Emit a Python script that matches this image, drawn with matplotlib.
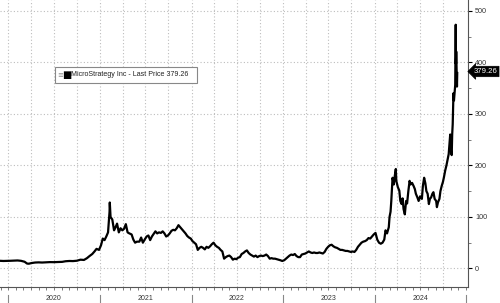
import matplotlib
matplotlib.use("Agg")
import matplotlib.pyplot as plt
import matplotlib.dates as mdates
import matplotlib.transforms as mtransforms
from matplotlib.patches import Rectangle
import pandas as pd

plt.rcParams["font.family"] = ["Liberation Sans", "DejaVu Sans"]

dates = [
 "2019-11-29","2019-12-13","2019-12-27","2020-01-10","2020-01-24","2020-02-07","2020-02-21","2020-03-06",
 "2020-03-16","2020-03-23","2020-04-03","2020-04-17","2020-05-01","2020-05-15","2020-06-01","2020-06-15",
 "2020-07-01","2020-07-15","2020-08-03","2020-08-17","2020-09-01","2020-09-15","2020-10-01","2020-10-15",
 "2020-10-29","2020-11-10","2020-11-20","2020-12-01","2020-12-10","2020-12-18","2020-12-28","2021-01-05",
 "2021-01-12","2021-01-19","2021-01-26","2021-02-02","2021-02-08","2021-02-09","2021-02-12","2021-02-19",
 "2021-02-26","2021-03-04","2021-03-10","2021-03-17","2021-03-24","2021-03-31","2021-04-07","2021-04-14",
 "2021-04-21","2021-04-28","2021-05-07","2021-05-14","2021-05-21","2021-05-28","2021-06-07","2021-06-14",
 "2021-06-21","2021-06-28","2021-07-06","2021-07-13","2021-07-20","2021-07-27","2021-08-03","2021-08-10",
 "2021-08-17","2021-08-24","2021-09-01","2021-09-08","2021-09-15","2021-09-22","2021-09-29","2021-10-06",
 "2021-10-13","2021-10-20","2021-10-27","2021-11-03","2021-11-10","2021-11-17","2021-11-24","2021-12-01",
 "2021-12-08","2021-12-15","2021-12-22","2021-12-29","2022-01-05","2022-01-12","2022-01-19","2022-01-26",
 "2022-02-02","2022-02-09","2022-02-16","2022-02-23","2022-03-02","2022-03-09","2022-03-16","2022-03-23",
 "2022-03-30","2022-04-06","2022-04-13","2022-04-20","2022-04-27","2022-05-04","2022-05-11","2022-05-18",
 "2022-05-25","2022-06-01","2022-06-08","2022-06-15","2022-06-22","2022-06-29","2022-07-06","2022-07-13",
 "2022-07-20","2022-07-27","2022-08-03","2022-08-10","2022-08-17","2022-08-24","2022-08-31","2022-09-07",
 "2022-09-14","2022-09-21","2022-09-28","2022-10-05","2022-10-12","2022-10-19","2022-10-26","2022-11-02",
 "2022-11-09","2022-11-16","2022-11-23","2022-11-30","2022-12-07","2022-12-14","2022-12-21","2022-12-29",
 "2023-01-06","2023-01-13","2023-01-20","2023-01-27","2023-02-03","2023-02-10","2023-02-17","2023-02-24",
 "2023-03-03","2023-03-10","2023-03-17","2023-03-24","2023-03-31","2023-04-07","2023-04-14","2023-04-21",
 "2023-04-28","2023-05-05","2023-05-12","2023-05-19","2023-05-26","2023-06-02","2023-06-09","2023-06-16",
 "2023-06-23","2023-06-30","2023-07-07","2023-07-14","2023-07-21","2023-07-28","2023-08-04","2023-08-11",
 "2023-08-18","2023-08-25","2023-09-01","2023-09-08","2023-09-15","2023-09-22","2023-09-29","2023-10-06",
 "2023-10-13","2023-10-20","2023-10-27","2023-11-03","2023-11-10","2023-11-17","2023-11-24","2023-12-01",
 "2023-12-08","2023-12-15","2023-12-22","2023-12-29","2024-01-05","2024-01-12","2024-01-19","2024-01-26",
 "2024-02-02","2024-02-09","2024-02-14","2024-02-20","2024-02-27","2024-03-01","2024-03-05","2024-03-08",
 "2024-03-13","2024-03-18","2024-03-22","2024-03-26","2024-03-28","2024-04-03","2024-04-09","2024-04-13",
 "2024-04-18","2024-04-22","2024-04-26","2024-05-01","2024-05-06","2024-05-10","2024-05-15","2024-05-20",
 "2024-05-24","2024-05-30","2024-06-05","2024-06-10","2024-06-14","2024-06-20","2024-06-25","2024-07-01",
 "2024-07-08","2024-07-12","2024-07-17","2024-07-22","2024-07-26","2024-07-31","2024-08-05","2024-08-09",
 "2024-08-14","2024-08-19","2024-08-23","2024-08-28","2024-09-03","2024-09-06","2024-09-10","2024-09-16",
 "2024-09-20","2024-09-25","2024-09-30","2024-10-04","2024-10-09","2024-10-14","2024-10-18","2024-10-23",
 "2024-10-29","2024-11-01","2024-11-04","2024-11-06","2024-11-08","2024-11-11","2024-11-13","2024-11-15",
 "2024-11-18","2024-11-19","2024-11-20","2024-11-21","2024-11-22","2024-11-25","2024-11-26",
]
prices = [
 14.8,14.5,14.6,14.9,15.2,15.5,14.8,13.0,
 9.5,9.2,10.5,11.5,11.8,11.5,12.0,12.3,
 12.2,12.5,12.8,14.0,14.5,14.3,15.0,17.0,
 16.5,20.0,24.0,28.0,33,38,36,45,
 58,55,62,70,110,128,100,95,
 74,80,87,70,78,74,77,86,
 70,68,66,56,50,52,52,60,
 50,56,62,64,55,62,67,72,
 68,70,69,72,68,62,64,68,
 73,75,74,78,84,80,76,72,
 68,63,60,58,53,50,47,36,
 40,42,40,37,42,40,43,47,
 50,45,42,40,36,33,19,22,
 24,25,22,17,19,18,21,22,
 28,30,33,35,30,27,25,23,
 25,22,24,25,24,25,27,24,
 19,20,19,19,18,17,16,14.5,
 16,19,22,25,27,26,28,24,
 22,22,27,28,29,31,33,31,
 30,31,30,30,31,30,29,32,
 38,42,45,46,43,41,40,38,
 36,36,35,34,34,33,32,33,
 32,36,42,46,50,52,53,55,
 59,58,62,66,69,56,50,48,
 50,56,74,68,80,100,110,131,
 176,163,180,193,170,158,151,131,
 125,136,115,105,131,126,150,170,
 163,166,160,154,145,138,131,140,
 135,160,176,165,150,145,125,135,
 138,145,148,135,131,119,128,135,
 150,160,168,177,190,200,210,222,
 260,228,220,261,280,340,326,339,
 356,430,473,397,421,353,379.26,
]
y_ticks = [0, 100, 200, 300, 400, 500]
years = [2020, 2021, 2022, 2023, 2024]
legend_label = "MicroStrategy Inc - Last Price 379.26"
last_label = "379.26"

x = pd.to_datetime(dates)

fig = plt.figure(figsize=(5.0, 3.03), dpi=100)
ax = fig.add_axes([0.0, 16/303, 468/500, 287/303])
ax.plot(x, prices, color="black", lw=1.6, solid_joinstyle="round")

ax.set_xlim(pd.Timestamp("2019-11-29"), pd.Timestamp("2025-01-08"))
ax.set_ylim(-36, 521)

# y axis on right
ax.yaxis.tick_right()
ax.set_yticks(y_ticks)
ax.set_yticks(range(50, 501, 100), minor=True)
ax.tick_params(axis="y", which="major", direction="out", length=3, width=0.8,
               labelsize=5.2, labelcolor="#333333", pad=2, color="black")
ax.tick_params(axis="y", which="minor", direction="out", length=2, width=0.6, color="#666666")

# x axis
ax.xaxis.remove_overlapping_locs = False
ax.xaxis.set_major_locator(mdates.MonthLocator(bymonth=7, bymonthday=1))
ax.xaxis.set_major_formatter(mdates.DateFormatter("%Y"))
ax.xaxis.set_minor_locator(mdates.MonthLocator())
ax.tick_params(axis="x", which="major", length=0, labelsize=5.0, labelcolor="#333333", pad=6)
ax.tick_params(axis="x", which="minor", direction="out", length=2.2, width=0.6, color="#666666")

# gridlines
for yv in y_ticks:
    ax.axhline(yv, color="#bdbdbd", lw=0.8, ls=(0, (1, 2)), zorder=0)
for q in pd.date_range("2020-01-01", "2024-12-31", freq="QS"):
    ax.axvline(q, color="#bdbdbd", lw=0.8, ls=(0, (1, 2)), zorder=0)

# year separators below axis
trans = mtransforms.blended_transform_factory(ax.transData, ax.transAxes)
for yr in years + [2025]:
    d = mdates.date2num(pd.Timestamp(f"{yr}-01-01"))
    ax.plot([d, d], [-0.028, -0.07], transform=trans, color="#888888", lw=0.8, clip_on=False)

for s in ["top", "left"]:
    ax.spines[s].set_visible(False)
ax.spines["right"].set_color("#555555")
ax.spines["bottom"].set_color("#555555")
ax.spines["right"].set_linewidth(0.8)
ax.spines["bottom"].set_linewidth(0.8)

# legend box
fig.patches.append(Rectangle((55/500, 1 - 83/303), 142/500, 16/303, transform=fig.transFigure,
                             fc="white", ec="#888888", lw=0.8, zorder=5))
ly = 1 - 75/303
fig.text(71/500, ly, legend_label, fontsize=5.1, color="#222222", va="center", ha="left", zorder=6)
fig.text(57/500, ly, "\u2261", fontsize=5, color="#888888", va="center", ha="left", zorder=6,
         family="DejaVu Sans")
fig.text(62/500, ly, "\u25A0", fontsize=7, color="black", va="center", ha="left", zorder=6,
         family="DejaVu Sans")

# last price tag
ax.annotate(last_label, xy=(1.0, prices[-1] + 3), xycoords=ax.get_yaxis_transform(),
            xytext=(4.0, 0), textcoords="offset points", fontsize=5.6, color="white",
            va="center", ha="left", annotation_clip=False,
            bbox=dict(boxstyle="larrow,pad=0.22", fc="black", ec="black", lw=0.5))

fig.savefig("out.png", dpi=100)
